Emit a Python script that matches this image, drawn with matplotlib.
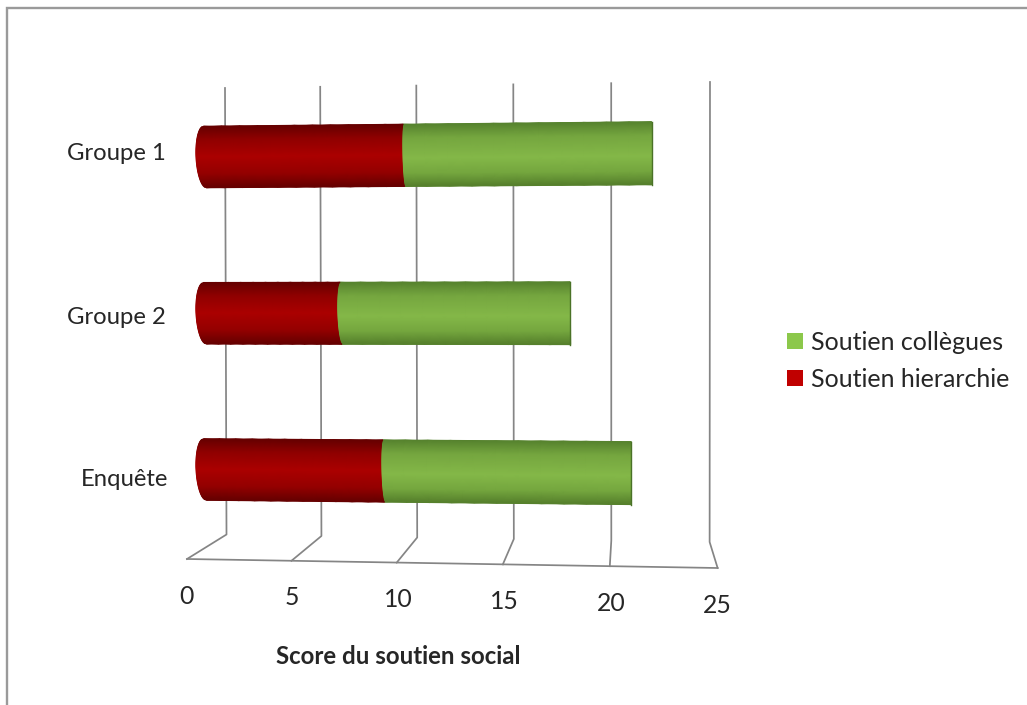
import numpy as np
import matplotlib
matplotlib.use("Agg")
import matplotlib.pyplot as plt
from matplotlib.colors import LinearSegmentedColormap
from matplotlib.patches import Patch
from matplotlib.transforms import Affine2D

# ---- data
categories = ["Enquête", "Groupe 2", "Groupe 1"]
hierarchie = [8.8, 6.7, 9.8]
collegues = [12.2, 11.3, 12.2]
axis_ticks = [0, 5, 10, 15, 20, 25]
axis_title = "Score du soutien social"
legend_labels = ["Soutien collègues", "Soutien hierarchie"]

W, H = 1027, 705
FONT = "Lato"
TEXT = "#262626"
GRID = "#858585"

fig = plt.figure(figsize=(W / 100, H / 100), dpi=100, facecolor="white")
ax = fig.add_axes([0, 0, 1, 1])
# score axis: 0 sits at x=205 px, 20.3 px per point; categories 156.25 px apart
XLIM = (-205 / 20.3, (W - 205) / 20.3)
YLIM = ((469.5 - H) / 156.25, 469.5 / 156.25)
ax.set_xlim(*XLIM)
ax.set_ylim(*YLIM)
ax.axis("off")

px = Affine2D().scale(1 / W, -1 / H).translate(0, 1) + fig.transFigure

# chart frame
ax.plot([7, 7, W], [H, 8, 8], color="#9a9a9a", lw=1.7, transform=px, zorder=1,
        solid_joinstyle="miter")

# 3D wall and floor, projected from the score value
def wall_x_top(v): return 225 + 18.95 * v + 0.018 * v ** 2
def wall_x_bot(v): return 226.5 + 18.9 * v + 0.017 * v ** 2
def front_x(v): return 187 + 20.8 * v + 0.017 * v ** 2
def wall_y_top(v): return 88 - 0.24 * v
def wall_y_bot(v): return 534.5 + 0.3 * v
def front_y(v): return 559 + 0.36 * v

for v in axis_ticks:
    ax.plot([wall_x_top(v), wall_x_bot(v), front_x(v)],
            [wall_y_top(v), wall_y_bot(v), front_y(v)],
            color=GRID, lw=1.25, transform=px, zorder=2)
ax.plot([front_x(axis_ticks[0]), front_x(axis_ticks[-1])],
        [front_y(axis_ticks[0]), front_y(axis_ticks[-1])],
        color=GRID, lw=1.25, transform=px, zorder=2)

# tick labels follow the slanted floor edge
for v in axis_ticks:
    ax.text(186 + 21.25 * v, 596 + 0.38 * v, str(v), transform=px, ha="center",
            va="center", fontsize=17.8, color=TEXT, family=FONT)

ax.text(398.5, 656, axis_title, transform=px, ha="center", va="center",
        fontsize=17.3, fontweight="bold", color=TEXT, family=FONT)

label_px = [(168, 480), (166, 317), (166, 153)]
for name, (lx, ly) in zip(categories, label_px):
    ax.text(lx, ly, name, transform=px, ha="right", va="center", fontsize=17.2,
            color=TEXT, family=FONT)

# cylinders
red_cmap = LinearSegmentedColormap.from_list(
    "red", [(0, "#650000"), (0.22, "#900000"), (0.5, "#ab0000"),
            (0.78, "#940000"), (1, "#660000")])
green_cmap = LinearSegmentedColormap.from_list(
    "green", [(0, "#56822e"), (0.22, "#75a63f"), (0.55, "#84b848"),
              (0.8, "#74a63e"), (1, "#56802c")])

half = 0.197          # half height of a bar, in category units
persp = 0.0011        # how fast bars spread away from the middle one
bulge_px = 9          # depth of the round end at score 0
t = np.linspace(-1, 1, 61)


def cylinder(yc, start, stop, cmap, z):
    vals = np.linspace(start, stop, 12)
    V, T = np.meshgrid(vals, t)
    bulge = np.clip(bulge_px - 0.7 * V, 0, None) * np.sqrt(1 - T ** 2) / 20.3
    X = V - bulge + 0.07 * T * np.clip(1 - V / 22, 0, 1)
    Y = 1 + (yc - T * half - 1) * (1 + persp * V)
    ax.pcolormesh(X, Y, T * 0.5 + 0.5, cmap=cmap, vmin=0, vmax=1,
                  shading="gouraud", zorder=z, rasterized=True)


for i in range(len(categories)):
    end = hierarchie[i] + collegues[i]
    cylinder(i, hierarchie[i], end, green_cmap, 4)
    cylinder(i, 0, hierarchie[i], red_cmap, 5)
    ax.plot([end, end],
            [1 + (i - half - 1) * (1 + persp * end), 1 + (i + half - 1) * (1 + persp * end)],
            color="#4a7227", lw=1.0, zorder=6)

handles = [Patch(facecolor="#8cc84b", edgecolor="none"),
           Patch(facecolor="#c00000", edgecolor="none")]
ax.legend(handles, legend_labels, loc="upper left", bbox_to_anchor=(777 / W, 1 - 321 / H),
          bbox_transform=fig.transFigure, frameon=False, handlelength=0.64,
          handleheight=0.64, handletextpad=0.33, labelspacing=0.56, borderaxespad=0,
          borderpad=0.4, prop={"family": FONT, "size": 18}, labelcolor=TEXT)

ax.set_xlim(*XLIM)
ax.set_ylim(*YLIM)

fig.savefig("out.png", dpi=100, facecolor="white")
